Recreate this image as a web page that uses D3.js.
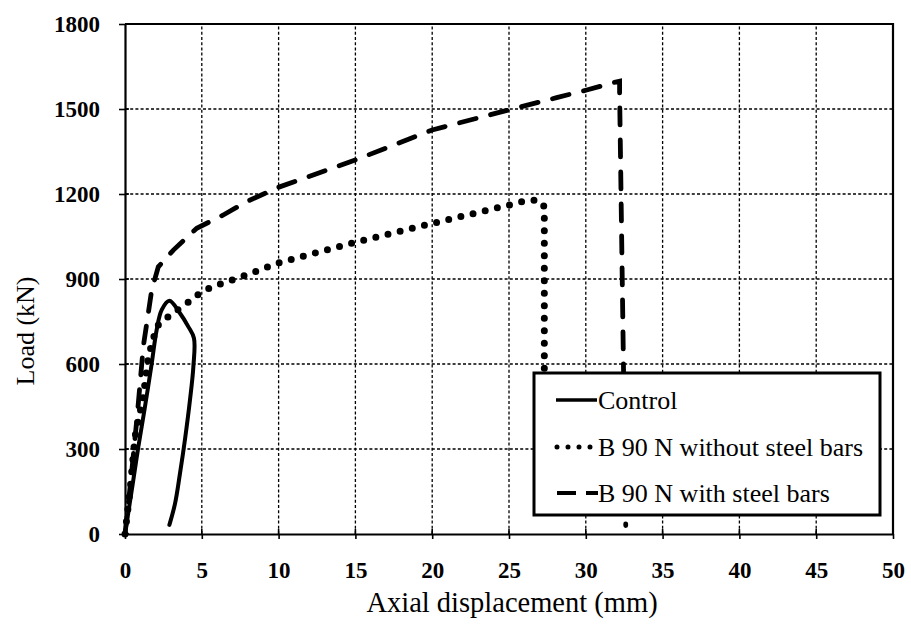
<!DOCTYPE html>
<html>
<head>
<meta charset="utf-8">
<script src="https://cdn.jsdelivr.net/npm/d3@7"></script>
<style>
  body { margin: 0; background: #fff; }
  svg { display: block; }
</style>
</head>
<body>
<svg id="chart" width="911" height="628"></svg>
<script>
// Axial displacement (mm) vs load (kN) for the three specimens
const controlDisp = [0, 0.54, 0.87, 1.3, 1.74, 2.06, 2.39, 2.89, 3.58, 4.12, 4.49, 4.45, 4.23, 3.9, 3.58, 3.26, 2.89];
const controlLoad = [0, 190, 308, 449, 602, 720, 791, 823, 779, 732, 691, 590, 473, 332, 214, 108, 32];

const noBarsDisp = [0, 0.33, 0.65, 1.19, 1.52, 2.06, 2.6, 3.26, 3.9, 4.56, 5.2, 6.0, 7.6, 10, 15, 20, 25, 26.0, 26.9, 27.3, 27.3];
const noBarsLoad = [0, 155, 343, 485, 626, 732, 758, 785, 808, 838, 861, 879, 908, 957, 1030, 1096, 1161, 1175, 1179, 1155, 350];

const withBarsDisp = [0, 0.4, 0.8, 1.19, 1.74, 2.17, 3.15, 4.67, 6.4, 7.92, 10, 15, 20, 25, 28.1, 30.06, 31.8, 32.2, 32.2, 32.6];
const withBarsLoad = [0, 200, 420, 661, 861, 943, 1002, 1079, 1126, 1173, 1224, 1320, 1426, 1497, 1540, 1567, 1593, 1598, 1560, 30];

const xTicks = [0, 5, 10, 15, 20, 25, 30, 35, 40, 45, 50];
const yTicks = [0, 300, 600, 900, 1200, 1500, 1800];

const seriesNames = ["Control", "B 90 N without steel bars", "B 90 N with steel bars"];

const serif = "'Liberation Serif', 'Times New Roman', Tinos, serif";
const setFont = sel => sel.style("font-family", serif, "important");

const svg = d3.select("#chart");
const margin = { left: 125, right: 18, top: 24, bottom: 94 };
const W = 911, H = 628;

const x = d3.scaleLinear().domain([0, 50]).range([margin.left, W - margin.right]);
const y = d3.scaleLinear().domain([0, 1800]).range([H - margin.bottom, margin.top]);

// Dashed grid
const grid = svg.append("g").attr("stroke", "#000").attr("stroke-width", 1.3).attr("stroke-dasharray", "3,2.2");
grid.selectAll("line.v").data(xTicks.slice(1, -1)).join("line")
  .attr("x1", d => x(d)).attr("x2", d => x(d)).attr("y1", y(0)).attr("y2", y(1800));
grid.selectAll("line.h").data(yTicks.slice(1, -1)).join("line")
  .attr("y1", d => y(d)).attr("y2", d => y(d)).attr("x1", x(0)).attr("x2", x(50));

// Axes
const fmt = d3.format("d");
const xAxis = svg.append("g").attr("transform", `translate(0,${y(0)})`)
  .call(d3.axisBottom(x).tickValues(xTicks).tickFormat(fmt).tickSize(5).tickSizeOuter(0).tickPadding(23));
const yAxis = svg.append("g").attr("transform", `translate(${x(0)},0)`)
  .call(d3.axisLeft(y).tickValues(yTicks).tickFormat(fmt).tickSize(6).tickSizeOuter(0).tickPadding(19));
[xAxis, yAxis].forEach(a => {
  a.attr("font-size", 23);
  a.select(".domain").attr("stroke", "#000").attr("stroke-width", 2.2);
  a.selectAll(".tick line").attr("stroke", "#000").attr("stroke-width", 1.6);
  a.selectAll(".tick text").attr("font-weight", "bold").attr("fill", "#000").call(setFont);
});
// inward half of the ticks
svg.append("g").selectAll("line").data(xTicks).join("line")
  .attr("x1", d => x(d)).attr("x2", d => x(d)).attr("y1", y(0)).attr("y2", y(0) - 5)
  .attr("stroke", "#000").attr("stroke-width", 1.6);
svg.append("g").selectAll("line").data(yTicks).join("line")
  .attr("x1", x(0)).attr("x2", x(0) + 4).attr("y1", d => y(d)).attr("y2", d => y(d))
  .attr("stroke", "#000").attr("stroke-width", 1.6);

// Frame top and right
svg.append("path")
  .attr("d", `M${x(0)},${y(1800)}H${x(50)}V${y(0)}`)
  .attr("fill", "none").attr("stroke", "#000").attr("stroke-width", 2.2);

// Curves
const lineLin = d3.line().x(d => x(d[0])).y(d => y(d[1]));
const lineSmooth = d3.line().x(d => x(d[0])).y(d => y(d[1])).curve(d3.curveCatmullRom.alpha(0.5));
const zip = (a, b) => a.map((v, i) => [v, b[i]]);

svg.append("path").datum(zip(noBarsDisp, noBarsLoad))
  .attr("d", lineLin).attr("fill", "none").attr("stroke", "#000")
  .attr("stroke-width", 7).attr("stroke-linecap", "round").attr("stroke-dasharray", "0,12.5");

svg.append("path").datum(zip(withBarsDisp, withBarsLoad))
  .attr("d", lineLin).attr("fill", "none").attr("stroke", "#000")
  .attr("stroke-width", 4.8).attr("stroke-linecap", "round").attr("stroke-dasharray", "17,15");

svg.append("path").datum(zip(controlDisp, controlLoad))
  .attr("d", lineSmooth)
  .attr("fill", "none").attr("stroke", "#000").attr("stroke-width", 4)
  .attr("stroke-linejoin", "round").attr("stroke-linecap", "round");

// Legend
const lg = svg.append("g");
lg.append("rect").attr("x", 534).attr("y", 373).attr("width", 346).attr("height", 142)
  .attr("fill", "#fff").attr("stroke", "#000").attr("stroke-width", 3);
const rows = [400, 447, 493];
lg.append("line").attr("x1", 556).attr("x2", 597).attr("y1", rows[0]).attr("y2", rows[0])
  .attr("stroke", "#000").attr("stroke-width", 3.5);
lg.append("line").attr("x1", 557).attr("x2", 594).attr("y1", rows[1]).attr("y2", rows[1])
  .attr("stroke", "#000").attr("stroke-width", 5).attr("stroke-linecap", "round").attr("stroke-dasharray", "0,11");
lg.append("line").attr("x1", 557).attr("x2", 598).attr("y1", rows[2]).attr("y2", rows[2])
  .attr("stroke", "#000").attr("stroke-width", 4).attr("stroke-dasharray", "19,10");
lg.selectAll("text").data(seriesNames).join("text")
  .attr("x", 598).attr("y", (d, i) => rows[i]).attr("dy", "0.35em")
  .attr("font-size", 26).call(setFont).text(d => d);

// Axis titles
svg.append("text").attr("x", 512).attr("y", 612).attr("text-anchor", "middle")
  .attr("font-size", 28.5).call(setFont).text("Axial displacement (mm)");
svg.append("text").attr("transform", "translate(34,331) rotate(-90)").attr("text-anchor", "middle")
  .attr("font-size", 26).call(setFont).text("Load (kN)");
</script>
</body>
</html>
